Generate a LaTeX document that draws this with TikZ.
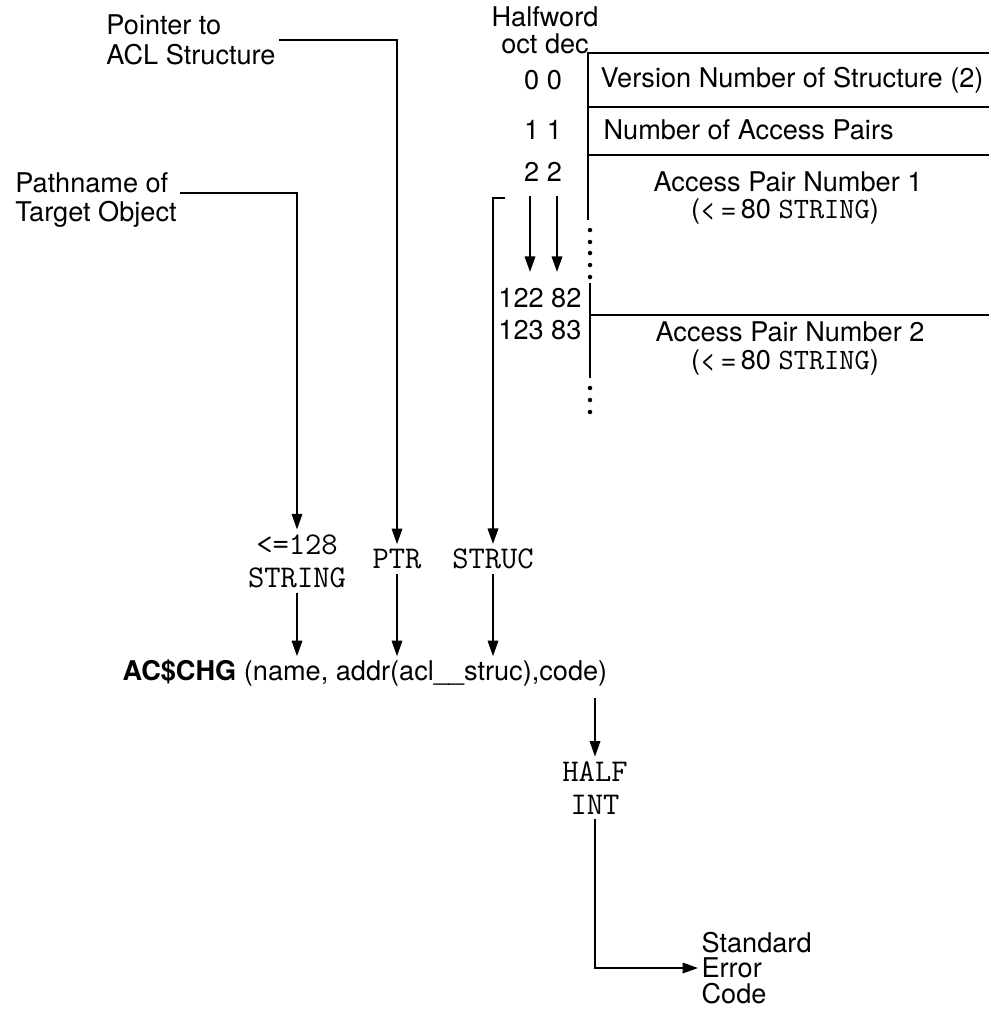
\documentclass[tikz,border=0pt]{standalone}
\usepackage{fontspec}
\setmainfont{TeX Gyre Heros}
\usetikzlibrary{arrows.meta,positioning}
\newcommand{\mono}[1]{{\fontsize{21}{22}\selectfont\ttfamily #1}}

\begin{document}
\begin{tikzpicture}[x=0.025cm,y=-0.025cm,line width=1.1pt,
 txt/.style={font=\fontsize{19.3}{21}\selectfont,inner sep=2pt},
 tt/.style={font=\fontsize{22.5}{23.5}\selectfont\ttfamily,align=center,inner sep=3pt},
 arr/.style={-{Triangle[length=11pt,width=7.5pt]}}]
\useasboundingbox (0,0) rectangle (989,1011);
% the call and what goes into it
\node[txt,align=left] (ptrlab) at (191,40) {Pointer to\\ACL Structure};
\node[txt,align=left] (pathlab) at (96,200) {Pathname of\\Target Object};
\node[tt] (strg) at (297,561) {<=128\\STRING};
\node[tt] (ptr) at (397,559) {PTR};
\node[tt] (struc) at (493,559) {STRUC};
\node[txt,anchor=west] (call) at (119,673) {\textbf{AC\$CHG} (name, addr(acl\_\_struc),code)};
\node[tt] (half) at (595,788) {HALF\\INT};
\node[txt,anchor=west,align=left,font=\fontsize{19.3}{18}\selectfont] (err) at (698,968) {Standard\\Error\\Code};
\coordinate (strucfoot) at (505,198);
\draw[arr] (ptrlab.east) -| (ptr.north);
\draw[arr] ([yshift=5pt]pathlab.east) -| (strg.north);
\draw[arr] (strucfoot) -| (struc.north);
\draw[arr] (strg.south) -- (strg.south |- call.north);
\draw[arr] (ptr.south) -- (ptr.south |- call.north);
\draw[arr] (struc.south) -- (struc.south |- call.north);
\draw[arr,shorten <=6pt] (half.north |- call.south) -- (half.north);
\draw[arr] (half.south) |- (err.west);
% the ACL structure
\node[txt] (hw) at (545,17) {Halfword};
\node[txt] (od) at (545,44) {oct dec};
\node[txt] (r0) at (543,80) {0 0};
\node[txt] (r1) at (543,130) {1 1};
\node[txt] (r2) at (543,172) {2 2};
\node[txt,anchor=east] (r82) at (585,298) {122 82};
\node[txt,anchor=east] (r83) at (585,330) {123 83};
\coordinate (octcol) at (530,0);
\coordinate (deccol) at (557,0);
\draw[arr,shorten <=8pt,shorten >=9pt] (r2.south -| octcol) -- (r82.north -| octcol);
\draw[arr,shorten <=8pt,shorten >=9pt] (r2.south -| deccol) -- (r82.north -| deccol);
\draw (989,53) -- (588,53) -- (588,220);
\draw (588,107) -- (989,107);
\draw (588,155) -- (989,155);
\draw (590,283) -- (590,378);
\draw (590,315) -- (989,315);
\foreach \y in {230,242,253,265,277,388,400,412}
 \fill (590,\y) circle (1.6pt);
\node[txt,anchor=west] (ver) at (597,80) {Version Number of Structure (2)};
\node[txt,anchor=west] (npairs) at (600,130) {Number of Access Pairs};
\node[txt,inner sep=0pt] (ap1) at (788,182) {Access Pair Number 1};
\node[txt,inner sep=0pt] (ap1s) at (785,211) {(<\,=\,80 \mono{STRING})};
\node[txt,inner sep=0pt] (ap2) at (790,332) {Access Pair Number 2};
\node[txt,inner sep=0pt] (ap2s) at (785,362) {(<\,=\,80 \mono{STRING})};
\end{tikzpicture}
\end{document}
